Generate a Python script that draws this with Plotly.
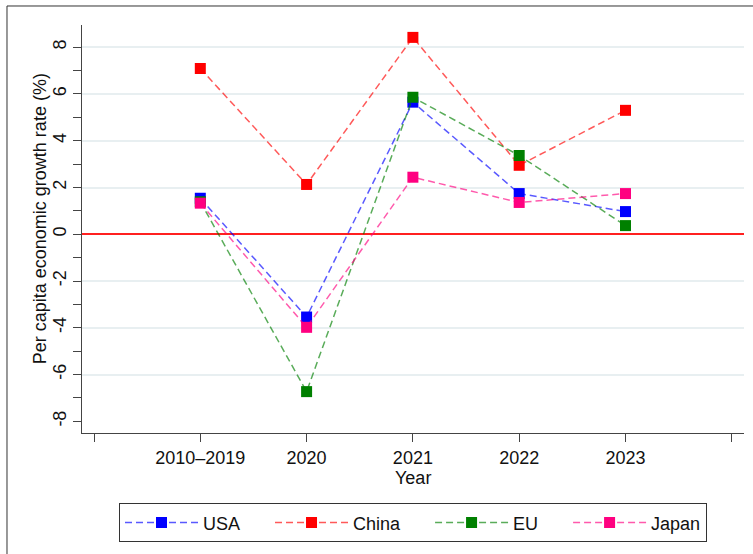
import plotly.graph_objects as go

# Per capita GDP growth (%) by period
PERIODS = ["2010–2019", "2020", "2021", "2022", "2023"]
USA = [1.54, -3.54, 5.65, 1.74, 0.97]
CHINA = [7.09, 2.13, 8.42, 2.95, 5.30]
EU = [1.39, -6.73, 5.86, 3.37, 0.37]
JAPAN = [1.33, -3.98, 2.44, 1.36, 1.74]

# Axis ticks
Y_TICKS = list(range(-8, 9))
Y_GRID = [-6, -4, -2, 2, 4, 6, 8]

FONT = "Liberation Sans, Arial, sans-serif"
PAD = "\u00a0" * 5  # extra room after each legend label

series = [
    ("USA", USA, "#0000ff", "rgba(0,0,255,0.65)"),
    ("China", CHINA, "#ff0000", "rgba(255,0,0,0.65)"),
    ("EU", EU, "#008000", "rgba(0,128,0,0.65)"),
    ("Japan", JAPAN, "#ff0080", "rgba(255,0,128,0.65)"),
]

x_pos = list(range(1, len(PERIODS) + 1))

fig = go.Figure()
for i, (name, vals, mcol, lcol) in enumerate(series):
    label = name + (PAD if i < len(series) - 1 else "")
    fig.add_trace(go.Scatter(
        x=x_pos, y=vals, name=label, mode="lines+markers",
        line=dict(color=lcol, width=1.5, dash="7px,4px"),
        marker=dict(symbol="square", size=11, color=mcol, line=dict(width=0)),
    ))

x_tickvals = list(range(0, len(PERIODS) + 2))
x_ticktext = [""] + PERIODS + [""]

fig.update_layout(
    width=753, height=554,
    margin=dict(l=82, r=9, t=25, b=121),
    paper_bgcolor="white", plot_bgcolor="white",
    font=dict(family=FONT, size=18, color="#111"),
    showlegend=True,
    legend=dict(
        orientation="h", x=0.5, xanchor="center", y=-0.2203, yanchor="middle",
        bordercolor="#333", borderwidth=1, itemwidth=73,
        font=dict(family=FONT, size=18, color="#111"),
    ),
    xaxis=dict(
        range=[-0.113, 6.115], tickmode="array",
        tickvals=x_tickvals, ticktext=x_ticktext,
        showgrid=False, zeroline=False,
        showline=True, linecolor="#444", linewidth=1.3,
        ticks="outside", ticklen=8, tickcolor="#444", tickwidth=1.3,
        tickfont=dict(size=18),
    ),
    yaxis=dict(
        range=[-8.5, 8.95], tickmode="array",
        tickvals=Y_TICKS,
        ticktext=[(str(v) if v % 2 == 0 else "") for v in Y_TICKS],
        tickangle=-90,
        showgrid=False,
        zeroline=True, zerolinecolor="#ff2020", zerolinewidth=1.6,
        showline=True, linecolor="#444", linewidth=1.3,
        ticks="outside", ticklen=8, tickcolor="#444", tickwidth=1.3,
        minor=dict(tickmode="array", tickvals=Y_GRID, ticks="", showgrid=True,
                   gridcolor="#e8eff1", gridwidth=1.5),
        tickfont=dict(size=18),
    ),
)

# Axis titles
fig.add_annotation(
    text="Per capita economic growth rate (%)", textangle=-90,
    xref="paper", yref="paper", x=-0.0634, y=0.524,
    xanchor="center", yanchor="middle", showarrow=False,
    font=dict(family=FONT, size=18, color="#111"),
)
fig.add_annotation(
    text="Year", xref="paper", yref="paper", x=0.5, y=-0.111,
    xanchor="center", yanchor="middle", showarrow=False,
    font=dict(family=FONT, size=18, color="#111"),
)

# Outer frame of the graph region
fig.add_shape(type="rect", xref="paper", yref="paper",
              x0=-0.1133, x1=1.2, y0=-0.5, y1=1.0466,
              line=dict(color="#333", width=1), fillcolor="rgba(0,0,0,0)",
              layer="below")

fig.write_html("out.html")
